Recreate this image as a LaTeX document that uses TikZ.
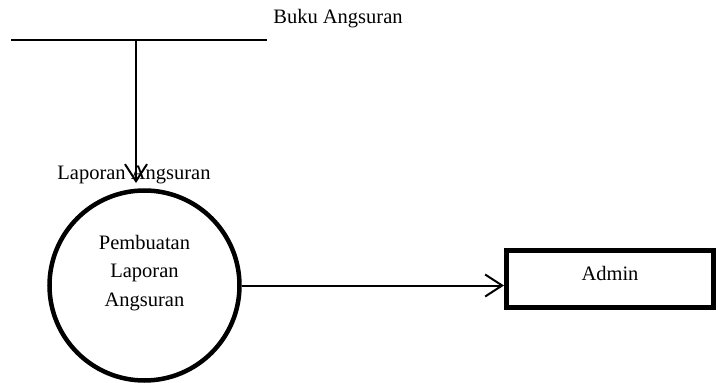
\documentclass[tikz,border=0pt]{standalone}
\usepackage{fontspec}
\setmainfont{Liberation Serif}
\usetikzlibrary{arrows.meta}
\begin{document}
\begin{tikzpicture}[x=1pt,y=-1pt,
  txt/.style={font=\fontsize{20.5}{28.5}\selectfont, inner sep=0pt, align=center},
  flow/.style={line width=2pt, -{Straight Barb[length=17pt,width=22pt,line width=2pt]}},
  proc/.style={circle, draw, line width=4.5pt, minimum size=190pt, inner sep=0pt},
  ent/.style={rectangle, draw, line width=5pt, minimum width=207pt, minimum height=57pt, inner sep=0pt,
    font=\fontsize{20.5}{24}\selectfont, text height=14pt, text depth=12pt}]
\useasboundingbox (0,0) rectangle (718,383);
% data store
\coordinate (storeL) at (11,40);
\coordinate (storeR) at (267,40);
\coordinate (storeT) at (136,40);
\draw[line width=2.2pt] (storeL) -- (storeR);
\node[txt] (storename) at (338,19) {Buku Angsuran};
% process
\node[proc] (p) at (144.5,285.5) {};
\node[txt] (ptext) at (144.5,273) {Pembuatan\\Laporan\\Angsuran};
% entity
\node[ent] (admin) at (610,279) {Admin};
% flows
\node[txt] (flowlbl) at (134,175) {Laporan Angsuran};
\coordinate (tipA) at (136,183);
\draw[flow] (storeT) -- (tipA);
\draw[flow] (p.east) -- (p.east -| admin.west);
\end{tikzpicture}
\end{document}
